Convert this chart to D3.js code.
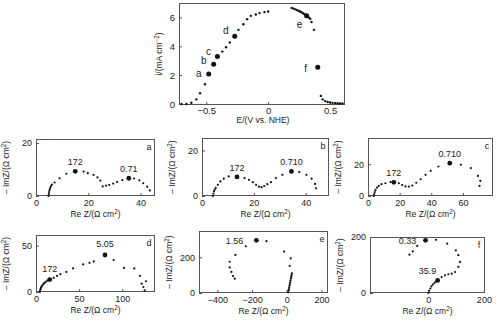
<!DOCTYPE html>
<html><head><meta charset="utf-8">
<script src="https://cdn.jsdelivr.net/npm/d3@7"></script>
<style>
html,body{margin:0;padding:0;background:#fff;}
text{font-family:"Liberation Sans",Arial,sans-serif;fill:#222;}
</style></head>
<body><svg id="c" width="500" height="322"></svg>
<script>
// ---------- Polarization curve ----------
const polE = [-0.70,-0.66,-0.62,-0.58,-0.55,-0.51,-0.48,-0.44,-0.41,-0.37,-0.34,-0.31,-0.27,-0.24,-0.20,-0.17,-0.14,-0.10,-0.07,-0.03,0.00,
  0.19,0.205,0.22,0.235,0.25,0.26,0.27,0.28,0.29,0.30,0.31,0.32,0.33,0.34,0.35,0.37,0.40,0.425,0.44,0.46,0.48,0.50,0.52,0.54,0.56,0.58,0.60];
const polI = [0.0,0.0,0.09,0.32,0.74,1.37,2.08,2.76,3.29,3.63,3.93,4.26,4.70,5.14,5.53,5.88,6.11,6.20,6.30,6.37,6.41,
  6.66,6.61,6.56,6.50,6.45,6.40,6.35,6.30,6.24,6.18,6.12,6.06,5.98,5.90,5.68,5.14,2.55,0.56,0.32,0.20,0.14,0.10,0.08,0.06,0.05,0.04,0.04];
const polMarkE = [-0.48,-0.44,-0.41,-0.27,0.31,0.40];
const polMarkI = [2.08,2.76,3.29,4.70,6.12,2.55];
const polMarkLabel = ["a","b","c","d","e","f"];
const polXTicks = [-0.5,0,0.5];
const polYTicks = [0,2,4,6];

// ---------- Impedance spectra ----------
const aRe = [4.8,4.9,5.0,5.2,5.4,5.7,6.1,7.1,9.0,11.6,15.0,18.2,19.8,22.0,23.5,24.6,25.5,26.8,28.0,29.5,31.0,33.0,35.5,37.5,39.5,41.0,42.5,43.5];
const aIm = [0.0,0.8,1.5,2.3,3.0,3.7,4.3,5.1,6.7,8.4,9.3,9.2,8.6,8.0,7.0,5.8,3.6,3.9,4.2,4.7,5.3,6.0,6.7,6.6,5.9,4.8,3.5,2.1];
const aMarkRe = [15.0,35.5], aMarkIm = [9.3,6.7], aMarkLabel = ["172","0.71"];

const bRe = [4.2,4.4,4.6,4.9,5.3,6.1,7.1,8.4,10.3,13.5,16.4,18.1,19.6,20.9,22.0,23.0,24.0,25.2,26.6,28.5,31.0,34.5,37.5,40.3,42.3,43.6,44.0];
const bIm = [0.0,1.0,2.0,2.8,3.6,4.9,6.4,7.6,8.6,8.4,7.9,7.1,6.1,4.9,4.1,3.9,4.4,5.2,6.1,7.9,9.3,10.8,10.5,9.3,7.6,5.3,3.4];
const bMarkRe = [13.5,34.5], bMarkIm = [8.4,10.8], bMarkLabel = ["172","0.710"];

const cRe = [3.6,3.9,4.3,4.7,5.7,6.8,8.5,11.0,14.2,16.3,19.5,21.6,23.7,25.8,28.0,30.5,33.3,36.4,39.6,44.5,51.7,58.7,65.0,69.5,71.0,70.5];
const cIm = [0.0,1.2,2.5,3.8,5.3,6.3,7.4,8.0,8.8,8.6,8.0,6.9,6.0,5.9,6.6,8.3,10.5,13.3,15.8,18.5,20.6,19.6,17.5,12.6,9.5,6.3];
const cMarkRe = [16.3,51.7], cMarkIm = [8.6,20.6], cMarkLabel = ["172","0.710"];

const dRe = [4.5,4.8,5.2,5.8,6.5,7.4,8.5,9.8,11.3,13.2,15.9,20.5,24.4,28.3,35.3,43.0,54.7,62.0,67.0,80.0,90.0,102.0,114.0,120.5,122.5,124.5,126.0,127.5];
const dIm = [0.0,1.5,3.0,4.5,6.0,7.3,8.6,9.8,11.0,12.2,13.4,15.2,17.4,19.2,21.7,25.4,29.7,31.5,33.0,39.9,34.4,26.0,25.4,17.4,9.0,5.4,1.8,11.6];
const dMarkRe = [15.9,80.0], dMarkIm = [13.4,39.9], dMarkLabel = ["172","5.05"];

const eRe = [8,10,12,14,16,18,20,22,24,26,28,30,17,23,-15,-117,-175,-236,-296,-329,-329,-319,-310,-300];
const eIm = [4,12,20,30,40,50,60,70,80,90,100,110,152,194,232,290,295,261,213,175,143,118,95,80];
const eMarkRe = [-175], eMarkIm = [295], eMarkLabel = ["1.56"];

const fRe = [0,3,7,11,16,22,28,33.5,48,60,72,84,96,108,114,108,99,68,28,-10,-40,-56,-68];
const fIm = [0,8,16,24,30,36,41,45,57,63,67,69,75,93,111,135,152,176,190,188,168,149,137];
const fMarkRe = [33.5,-10], fMarkIm = [45,188], fMarkLabel = ["35.9","0.33"];

const nyqData = [
  {key:"a", re:aRe, im:aIm, mRe:aMarkRe, mIm:aMarkIm, mLab:aMarkLabel, xt:[0,20,40], yt:[0,20]},
  {key:"b", re:bRe, im:bIm, mRe:bMarkRe, mIm:bMarkIm, mLab:bMarkLabel, xt:[0,20,40], yt:[0,20]},
  {key:"c", re:cRe, im:cIm, mRe:cMarkRe, mIm:cMarkIm, mLab:cMarkLabel, xt:[0,20,40,60], yt:[0,20]},
  {key:"d", re:dRe, im:dIm, mRe:dMarkRe, mIm:dMarkIm, mLab:dMarkLabel, xt:[0,50,100], yt:[0,50]},
  {key:"e", re:eRe, im:eIm, mRe:eMarkRe, mIm:eMarkIm, mLab:eMarkLabel, xt:[-400,-200,0,200], yt:[0,200]},
  {key:"f", re:fRe, im:fIm, mRe:fMarkRe, mIm:fMarkIm, mLab:fMarkLabel, xt:[0,200], yt:[0,200]}
];

// ---------- Layout (pixels / axis ranges) ----------
const layout = {
  a:{x0:36,x1:155,y0:139,y1:196,xd:[0,45.5],yd:[0,21.5], lab:[[0,-6],[0,-6]]},
  b:{x0:202,x1:329,y0:138,y1:196,xd:[0,49],yd:[0,25.5], lab:[[0,-6],[0,-6]]},
  c:{x0:368,x1:493,y0:138,y1:196,xd:[0,79],yd:[0,36.4], lab:[[0,-6],[0,-6]]},
  d:{x0:36,x1:155,y0:235,y1:292,xd:[0,138],yd:[0,61.5], lab:[[0,-8],[0,-8]]},
  e:{x0:199,x1:328,y0:231,y1:293,xd:[-506,238],yd:[0,347], lab:[[-22,4]]},
  f:{x0:370,x1:485,y0:237,y1:293,xd:[-210,204],yd:[0,200], lab:[[-10,-6],[-18,4]]}
};

const svg = d3.select("#c");
const FS = 9;
const frameCol = "#555";

function frame(g, x0, x1, y0, y1){
  g.append("rect").attr("x",x0+0.5).attr("y",y0+0.5).attr("width",x1-x0-1).attr("height",y1-y0-1)
   .attr("fill","none").attr("stroke",frameCol).attr("stroke-width",1);
}
function sup(t, base, s, tail){
  t.text(base);
  t.append("tspan").attr("baseline-shift","super").attr("font-size",FS*0.7).text(s);
  t.append("tspan").text(tail);
}
const minus = d=>String(d).replace("-","−");

// ----- top panel -----
(function(){
  const x0=179,x1=345,y0=3,y1=105;
  const x = d3.scaleLinear().domain([-0.72,0.62]).range([x0,x1]);
  const y = d3.scaleLinear().domain([-0.07,7.0]).range([y1,y0]);
  const g = svg.append("g");
  const xa = g.append("g").attr("transform",`translate(0,${y1})`)
    .call(d3.axisBottom(x).tickValues(polXTicks).tickSize(-3).tickPadding(2).tickFormat(d=>d===0?"0":minus(d3.format(".1f")(d))));
  const ya = g.append("g").attr("transform",`translate(${x0},0)`)
    .call(d3.axisLeft(y).tickValues(polYTicks).tickSize(-3).tickPadding(4).tickFormat(d3.format("d")));
  [xa,ya].forEach(a=>{a.select(".domain").remove();a.selectAll("line").attr("stroke",frameCol);
    a.selectAll("text").attr("font-size",FS+0.5).attr("fill","#222").attr("font-family","Liberation Sans, Arial, sans-serif");});
  frame(g,x0,x1,y0,y1);
  g.selectAll("circle.s").data(polE.map((e,i)=>[e,polI[i]])).join("circle")
    .attr("cx",d=>x(d[0])).attr("cy",d=>y(d[1])).attr("r",1.2).attr("fill","#111");
  g.selectAll("circle.m").data(polMarkE.map((e,i)=>[e,polMarkI[i]])).join("circle")
    .attr("cx",d=>x(d[0])).attr("cy",d=>y(d[1])).attr("r",2.5).attr("fill","#111");
  const off = [[-10,0],[-10,-3],[-9,-4],[-9,-5],[-7,10],[-12,2]];
  polMarkLabel.forEach((l,i)=>{
    g.append("text").attr("x",x(polMarkE[i])+off[i][0]).attr("y",y(polMarkI[i])+off[i][1])
     .attr("font-size",FS+1).attr("text-anchor","middle").attr("dominant-baseline","middle").text(l);
  });
  const yl = g.append("text").attr("transform",`translate(162,${(y0+y1)/2}) rotate(-90)`)
     .attr("text-anchor","middle").attr("font-size",FS-0.5);
  sup(yl,"i/(mA cm","−2",")");
  g.append("text").attr("x",263).attr("y",123).attr("text-anchor","middle").attr("font-size",FS-0.5).text("E/(V vs. NHE)");
})();

// ----- Nyquist panels -----
nyqData.forEach(p=>{
  const L = layout[p.key];
  const x = d3.scaleLinear().domain(L.xd).range([L.x0,L.x1]);
  const y = d3.scaleLinear().domain(L.yd).range([L.y1,L.y0]);
  const g = svg.append("g");
  const xa = g.append("g").attr("transform",`translate(0,${L.y1})`)
    .call(d3.axisBottom(x).tickValues(p.xt).tickSize(-3).tickPadding(4).tickFormat(minus));
  const ya = g.append("g").attr("transform",`translate(${L.x0},0)`)
    .call(d3.axisLeft(y).tickValues(p.yt).tickSize(-3).tickPadding(4));
  [xa,ya].forEach(a=>{a.select(".domain").remove();a.selectAll("line").attr("stroke",frameCol);
    a.selectAll("text").attr("font-size",FS).attr("fill","#222").attr("font-family","Liberation Sans, Arial, sans-serif");});
  frame(g,L.x0,L.x1,L.y0,L.y1);
  g.selectAll("circle.s").data(p.re.map((r,i)=>[r,p.im[i]])).join("circle")
    .attr("cx",d=>x(d[0])).attr("cy",d=>y(d[1])).attr("r",1.1).attr("fill","#111");
  p.mRe.forEach((r,i)=>{
    g.append("circle").attr("cx",x(r)).attr("cy",y(p.mIm[i])).attr("r",2.4).attr("fill","#111");
    const o = L.lab[i];
    g.append("text").attr("x",x(r)+o[0]).attr("y",y(p.mIm[i])+o[1]).attr("text-anchor","middle")
      .attr("font-size",FS).text(p.mLab[i]);
  });
  g.append("text").attr("x",L.x1-6).attr("y",L.y0+11).attr("text-anchor","middle").attr("font-size",FS).text(p.key);
  const yl = g.append("text").attr("transform",`translate(${L.x0-27},${(L.y0+L.y1)/2}) rotate(-90)`)
     .attr("text-anchor","middle").attr("font-size",FS-0.5);
  sup(yl,"– ImZ/(Ω cm","2",")");
  const xl = g.append("text").attr("x",(L.x0+L.x1)/2).attr("y",L.y1+21).attr("text-anchor","middle").attr("font-size",FS-0.5);
  sup(xl,"Re Z/(Ω cm","2",")");
});
</script></body></html>
